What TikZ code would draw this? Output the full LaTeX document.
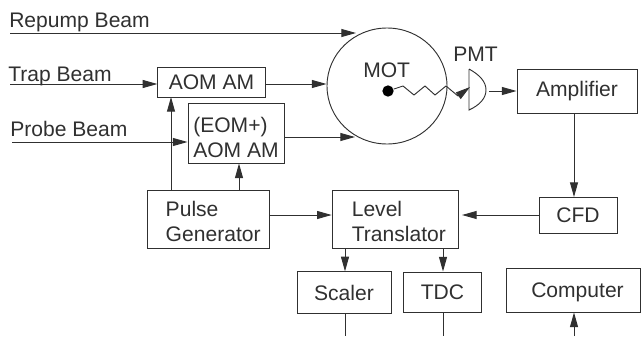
\documentclass[tikz,border=0pt]{standalone}
\usepackage{fontspec}
\setmainfont{Liberation Sans}
\usepackage{xcolor}
\usepackage{tikz}
\usetikzlibrary{arrows.meta, calc, positioning, shapes.geometric}
\definecolor{Ink}{HTML}{303030}
\newcommand{\toppad}[1]{\rule{0pt}{#1}}
\tikzset{
  link/.style={line width=0.7pt, color=Ink},
  arrow/.style={-{Triangle[length=11pt, width=6pt]}, line width=0.7pt, color=Ink},
  blockbox/.style={draw=Ink, line width=0.7pt, inner sep=0pt, align=left, text=Ink,
    font=\fontsize{15.8}{18.75}\selectfont},
  label/.style={color=Ink, inner sep=0pt, anchor=base west, font=\fontsize{15.8}{18.75}\selectfont},
}

\begin{document}
\begin{tikzpicture}[x=0.75pt, y=-0.75pt]
  \useasboundingbox (0,0) rectangle (642,336);

  % Boxes
  \node[blockbox, minimum width=80.5pt, minimum height=22.5pt] (aomam) at (211.5,82) {AOM AM};
  \node[blockbox, minimum width=72pt, minimum height=45pt] (eomam) at (236,133) {\toppad{18pt}(EOM+)\\AOM AM};
  \node[blockbox, minimum width=91pt, minimum height=44pt] (pulse) at (208.5,219.5) {\toppad{15pt}\hspace*{7pt}Pulse\\\hspace*{7pt}Generator};
  \node[blockbox, minimum width=95pt, minimum height=44pt] (level) at (395.5,219.5) {\toppad{15pt}\hspace*{5pt}Level\\\hspace*{5pt}Translator};
  \node[blockbox, minimum width=70.5pt, minimum height=31pt] (scaler) at (344,292.5) {Scaler};
  \node[blockbox, minimum width=58pt, minimum height=30pt] (tdc) at (442.5,292) {TDC};
  \node[blockbox, minimum width=100pt, minimum height=33pt] (computer) at (573.5,290) {\toppad{15pt}\hspace*{6pt}Computer};
  \node[blockbox, minimum width=58.5pt, minimum height=27pt] (cfd) at (578,215) {CFD};
  \node[blockbox, minimum width=90pt, minimum height=32.5pt] (amplifier) at (577,91.5) {Amplifier};

  % MOT chamber and trapped atoms
  \node[ellipse, draw=Ink, line width=0.7pt, inner sep=0pt, minimum width=90pt, minimum height=87pt] (mot) at (387,86) {};
  \node[label] (motlabel) at (363,77) {MOT};
  \node[circle, fill=black, inner sep=0pt, minimum size=8.5pt] (atoms) at (388,91) {};

  % PMT
  \node[label] (pmtlabel) at (453,61) {PMT};
  \coordinate (pmtin) at (470,87);
  \coordinate (pmtout) at (489,91);
  \draw[link] (469,69) -- (469,110) .. controls (480,105) and (486,98) .. (486,90) .. controls (486,82) and (480,75) .. (469,69);

  % Beams
  \node[label] (repump) at (9,27) {Repump Beam};
  \node[label] (trap) at (8,81) {Trap Beam};
  \node[label] (probe) at (10,136) {Probe Beam};
  \coordinate (repumpin) at (10,33);
  \coordinate (trapin) at (10,84);
  \coordinate (probein) at (12,142);
  \coordinate (scalerout) at (345,336);
  \coordinate (tdcout) at (443,336);
  \coordinate (computerin) at (574,336);

  \draw[arrow] (repumpin) -- (356,33);
  \draw[arrow] (trapin) -- (trapin -| aomam.west);
  \draw[arrow] (probein) -- (probein -| eomam.west);
  \draw[arrow] (aomam.east |- trapin) -- (trapin -| mot.west);
  \draw[arrow] (eomam.east |- 0,137) -- (355,137);

  % Pulse lines
  \draw[arrow] (171,190) -- (171,97);
  \draw[arrow] (pulse.north -| 239,0) -- (eomam.south -| 239,0);
  \draw[arrow] (pulse.east |- 0,215) -- (level.west |- 0,215);

  % Signal chain
  \draw[link] (atoms) -- (403,86) -- (414,95) -- (425,86) -- (435,95) -- (446,86) -- (458,96);
  \draw[arrow] (458,96) -- (pmtin);
  \draw[arrow] (pmtout) -- (pmtout -| amplifier.west);
  \draw[arrow] (574,113) -- (574,197);
  \draw[arrow] (cfd.west |- 0,215) -- (462,215);
  \draw[arrow] (level.south -| scalerout) -- (scaler.north -| scalerout);
  \draw[arrow] (level.south -| tdcout) -- (tdc.north -| tdcout);
  \draw[link] (scaler.south -| scalerout) -- (scalerout);
  \draw[link] (tdc.south -| tdcout) -- (tdcout);
  \draw[arrow] (computerin) -- (computerin |- computer.south);
\end{tikzpicture}
\end{document}
